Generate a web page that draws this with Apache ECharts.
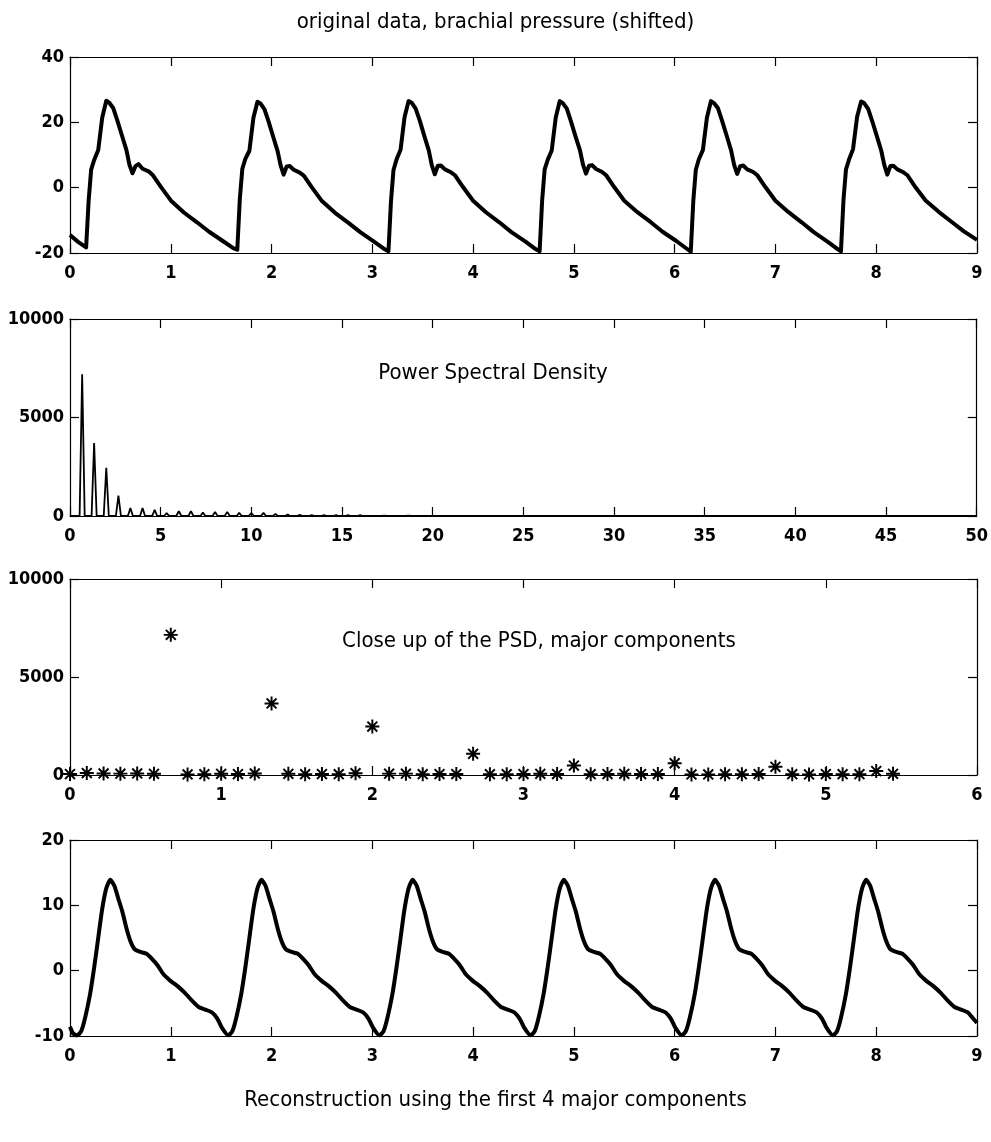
<!DOCTYPE html>
<html>
<head>
<meta charset="utf-8">
<script src="https://cdn.jsdelivr.net/npm/echarts@6/dist/echarts.min.js"></script>
<style>
  html, body { margin: 0; padding: 0; background: #fff; }
  #main { width: 991px; height: 1142px; }
</style>
</head>
<body>
<div id="main"></div>
<script>
// brachial pressure [time s, mmHg shifted]
var pressure = [
  [0, -14.5], [0.08, -16.6],
  [0.16,-18.3],[0.185,-4],[0.21,5.5],[0.24,8.5],[0.28,11.5],[0.32,21.5],[0.36,26.6],[0.39,26.0],[0.43,24.3],[0.47,20.5],[0.52,15.5],[0.56,11.5],[0.59,7],[0.62,4.4],[0.65,6.6],[0.68,7.2],[0.72,5.8],[0.78,5],[0.82,3.9],[0.90,0.3],[1.00,-3.9],[1.13,-7.6],[1.26,-10.6],[1.38,-13.5],[1.52,-16.4],[1.62,-18.5],
  [1.66,-19.0],[1.685,-3.5],[1.71,5.8],[1.74,8.8],[1.78,11.3],[1.82,21.4],[1.86,26.3],[1.89,25.8],[1.93,24.0],[1.97,20.3],[2.02,15.2],[2.06,11.2],[2.09,6.8],[2.12,4.0],[2.15,6.5],[2.18,6.6],[2.22,5.5],[2.28,4.6],[2.32,3.7],[2.40,0.1],[2.50,-4.1],[2.63,-7.7],[2.76,-10.7],[2.88,-13.6],[3.02,-16.6],[3.12,-18.8],
  [3.16,-19.5],[3.185,-4.2],[3.21,5.4],[3.24,8.6],[3.28,11.6],[3.32,21.6],[3.36,26.5],[3.39,26.0],[3.43,24.2],[3.47,20.6],[3.52,15.4],[3.56,11.4],[3.59,6.9],[3.62,4.1],[3.65,6.7],[3.68,6.8],[3.72,5.6],[3.78,4.7],[3.82,3.8],[3.90,0.2],[4.00,-4.0],[4.13,-7.6],[4.26,-10.6],[4.38,-13.6],[4.52,-16.5],[4.62,-18.8],
  [4.66,-19.5],[4.685,-3.9],[4.71,5.6],[4.74,8.5],[4.78,11.4],[4.82,21.5],[4.86,26.5],[4.89,25.9],[4.93,24.2],[4.97,20.4],[5.02,15.3],[5.06,11.5],[5.09,7.1],[5.12,4.3],[5.15,6.7],[5.18,6.9],[5.22,5.7],[5.28,4.8],[5.32,3.8],[5.40,0.2],[5.50,-4.0],[5.63,-7.5],[5.76,-10.5],[5.88,-13.5],[6.02,-16.4],[6.12,-18.7],
  [6.16,-19.6],[6.185,-4.0],[6.21,5.5],[6.24,8.7],[6.28,11.5],[6.32,21.4],[6.36,26.5],[6.39,25.9],[6.43,24.3],[6.47,20.5],[6.52,15.5],[6.56,11.4],[6.59,7.0],[6.62,4.2],[6.65,6.6],[6.68,6.8],[6.72,5.6],[6.78,4.8],[6.82,3.8],[6.90,0.2],[7.00,-4.0],[7.13,-7.5],[7.26,-10.6],[7.38,-13.6],[7.52,-16.6],[7.62,-18.9],
  [7.65,-19.5],[7.675,-3.8],[7.70,5.6],[7.73,8.6],[7.77,11.8],[7.81,21.6],[7.85,26.4],[7.88,25.9],[7.92,24.1],[7.96,20.4],[8.01,15.4],[8.05,11.3],[8.08,7.0],[8.11,4.0],[8.14,6.6],[8.17,6.7],[8.21,5.6],[8.27,4.7],[8.31,3.8],[8.39,0.1],[8.49,-3.9],[8.62,-7.4],[8.75,-10.5],[8.87,-13.4],[9.00,-16.0]
];

// PSD peaks (harmonics of ~0.67 Hz)
var psdFreq  = [0.67, 1.33, 2.0, 2.67, 3.33, 4.0, 4.67, 5.33, 6.0, 6.67, 7.33, 8.0, 8.67, 9.33, 10.0, 10.67, 11.33, 12.0, 12.67, 13.33, 14.0, 14.67, 15.33, 16.0, 17.33, 18.67];
var psdPower = [7200, 3700, 2450, 1030, 400, 400, 310, 150, 250, 250, 170, 210, 210, 160, 150, 160, 100, 70, 60, 50, 50, 50, 40, 40, 20, 20];

// close up, one point every 1/9 Hz (k = 0..49)
var closeUpPower = [
  50, 100, 80, 70, 80, 60, 7150, 30, 40, 60,
  50, 80, 3650, 60, 40, 50, 40, 90, 2470, 70,
  70, 40, 50, 50, 1080, 40, 40, 50, 60, 50,
  480, 40, 50, 60, 50, 50, 600, 30, 30, 40,
  40, 50, 420, 40, 30, 50, 40, 40, 200, 60
];

// reconstruction from the first 4 major components
var reconstruction = [
  [0,-8.6],[0.03,-9.6],
  [0.07,-9.9],[0.11,-9.3],[0.15,-7.2],[0.20,-3.5],[0.24,0.5],[0.28,5.0],[0.32,9.5],[0.36,12.6],[0.40,13.9],[0.44,13.0],[0.48,11.0],[0.52,9.0],[0.56,6.5],[0.60,4.5],[0.64,3.3],[0.69,2.9],[0.76,2.6],[0.82,1.7],[0.87,0.8],[0.93,-0.6],[1.00,-1.6],[1.07,-2.4],[1.14,-3.4],[1.21,-4.6],[1.28,-5.6],[1.35,-6.0],[1.41,-6.4],[1.46,-7.3],[1.51,-8.8],
  [1.57,-9.9],[1.61,-9.3],[1.65,-7.2],[1.70,-3.5],[1.74,0.5],[1.78,5.0],[1.82,9.5],[1.86,12.6],[1.90,13.9],[1.94,13.0],[1.98,11.0],[2.02,9.0],[2.06,6.5],[2.10,4.5],[2.14,3.3],[2.19,2.9],[2.26,2.6],[2.32,1.7],[2.37,0.8],[2.43,-0.6],[2.50,-1.6],[2.57,-2.4],[2.64,-3.4],[2.71,-4.6],[2.78,-5.6],[2.85,-6.0],[2.91,-6.4],[2.96,-7.3],[3.01,-8.8],
  [3.07,-9.9],[3.11,-9.3],[3.15,-7.2],[3.20,-3.5],[3.24,0.5],[3.28,5.0],[3.32,9.5],[3.36,12.6],[3.40,13.9],[3.44,13.0],[3.48,11.0],[3.52,9.0],[3.56,6.5],[3.60,4.5],[3.64,3.3],[3.69,2.9],[3.76,2.6],[3.82,1.7],[3.87,0.8],[3.93,-0.6],[4.00,-1.6],[4.07,-2.4],[4.14,-3.4],[4.21,-4.6],[4.28,-5.6],[4.35,-6.0],[4.41,-6.4],[4.46,-7.3],[4.51,-8.8],
  [4.57,-9.9],[4.61,-9.3],[4.65,-7.2],[4.70,-3.5],[4.74,0.5],[4.78,5.0],[4.82,9.5],[4.86,12.6],[4.90,13.9],[4.94,13.0],[4.98,11.0],[5.02,9.0],[5.06,6.5],[5.10,4.5],[5.14,3.3],[5.19,2.9],[5.26,2.6],[5.32,1.7],[5.37,0.8],[5.43,-0.6],[5.50,-1.6],[5.57,-2.4],[5.64,-3.4],[5.71,-4.6],[5.78,-5.6],[5.85,-6.0],[5.91,-6.4],[5.96,-7.3],[6.01,-8.8],
  [6.07,-9.9],[6.11,-9.3],[6.15,-7.2],[6.20,-3.5],[6.24,0.5],[6.28,5.0],[6.32,9.5],[6.36,12.6],[6.40,13.9],[6.44,13.0],[6.48,11.0],[6.52,9.0],[6.56,6.5],[6.60,4.5],[6.64,3.3],[6.69,2.9],[6.76,2.6],[6.82,1.7],[6.87,0.8],[6.93,-0.6],[7.00,-1.6],[7.07,-2.4],[7.14,-3.4],[7.21,-4.6],[7.28,-5.6],[7.35,-6.0],[7.41,-6.4],[7.46,-7.3],[7.51,-8.8],
  [7.57,-9.9],[7.61,-9.3],[7.65,-7.2],[7.70,-3.5],[7.74,0.5],[7.78,5.0],[7.82,9.5],[7.86,12.6],[7.90,13.9],[7.94,13.0],[7.98,11.0],[8.02,9.0],[8.06,6.5],[8.10,4.5],[8.14,3.3],[8.19,2.9],[8.26,2.6],[8.32,1.7],[8.37,0.8],[8.43,-0.6],[8.50,-1.6],[8.57,-2.4],[8.64,-3.4],[8.71,-4.6],[8.78,-5.6],[8.85,-6.0],[8.91,-6.4],[8.96,-7.3],[9.00,-8.0]
];

var FONT = "'Liberation Sans Narrow', 'DejaVu Sans Condensed', 'Arial Narrow', sans-serif";

// psd drawn as a line that sits on zero between the harmonic peaks
var psdLine = [[0, 0]];
psdFreq.forEach(function (f, i) {
  psdLine.push([f - 0.14, 0], [f, psdPower[i]], [f + 0.14, 0]);
});
psdLine.push([50, 0]);

var closeUp = closeUpPower.map(function (v, k) { return [k / 9, v]; });

// 8-arm asterisk marker like matlab '*'
var STAR = 'path://M8.6 0L11.4 0L11.4 20L8.6 20Z M0 8.6L20 8.6L20 11.4L0 11.4Z ' +
  'M3.93 1.95L18.05 16.07L16.07 18.05L1.95 3.93Z M16.07 1.95L18.05 3.93L3.93 18.05L1.95 16.07Z';

var grids = [
  { left: 70, right: 14, top: 57, height: 196 },
  { left: 70, right: 14, top: 319, height: 197 },
  { left: 70, right: 14, top: 579, height: 196 },
  { left: 70, right: 14, top: 840, height: 196 }
];

function axisPair(dir, gi, min, max, interval) {
  var main = {
    gridIndex: gi, type: 'value', min: min, max: max, interval: interval,
    position: dir === 'x' ? 'bottom' : 'left',
    splitLine: { show: false },
    axisLine: { show: true, onZero: false, lineStyle: { color: '#000', width: 1.2 } },
    axisTick: { show: true, inside: true, length: 9, lineStyle: { color: '#000', width: 1.2 } },
    axisLabel: {
      show: true, color: '#000', fontFamily: FONT, fontWeight: 'bold', fontSize: 18,
      margin: dir === 'x' ? 11 : 6,
      formatter: function (v) { return String(v); }
    }
  };
  var other = echarts.util.clone(main);
  other.position = dir === 'x' ? 'top' : 'right';
  other.axisLabel = { show: false };
  return [main, other];
}

var xAxis = [].concat(
  axisPair('x', 0, 0, 9, 1),
  axisPair('x', 1, 0, 50, 5),
  axisPair('x', 2, 0, 6, 1),
  axisPair('x', 3, 0, 9, 1)
);
var yAxis = [].concat(
  axisPair('y', 0, -20, 40, 20),
  axisPair('y', 1, 0, 10000, 5000),
  axisPair('y', 2, 0, 10000, 5000),
  axisPair('y', 3, -10, 20, 10)
);

var chart = echarts.init(document.getElementById('main'));
var option = {
  backgroundColor: '#fff',
  animation: false,
  grid: grids,
  xAxis: xAxis,
  yAxis: yAxis,
  graphic: [
    { type: 'text', left: 'center', top: 11,
      style: { text: 'original data, brachial pressure (shifted)', font: '22px ' + FONT, fill: '#000' } },
    { type: 'text', x: 493, y: 373,
      style: { text: 'Power Spectral Density', font: '22px ' + FONT, fill: '#000', textAlign: 'center', textVerticalAlign: 'middle' } },
    { type: 'text', x: 539, y: 641,
      style: { text: 'Close up of the PSD, major components', font: '22px ' + FONT, fill: '#000', textAlign: 'center', textVerticalAlign: 'middle' } },
    { type: 'text', left: 'center', top: 1089,
      style: { text: 'Reconstruction using the first 4 major components', font: '22px ' + FONT, fill: '#000' } }
  ],
  series: [
    {
      type: 'line', xAxisIndex: 0, yAxisIndex: 0,
      data: pressure, showSymbol: false, symbol: 'none',
      lineStyle: { color: '#000', width: 4, join: 'round' }
    },
    {
      type: 'line', xAxisIndex: 2, yAxisIndex: 2,
      data: psdLine, showSymbol: false, symbol: 'none',
      lineStyle: { color: '#000', width: 1.8 }
    },
    {
      type: 'scatter', xAxisIndex: 4, yAxisIndex: 4,
      data: closeUp, symbol: STAR, symbolSize: 14,
      itemStyle: { color: '#000', opacity: 1 }
    },
    {
      type: 'line', xAxisIndex: 6, yAxisIndex: 6,
      data: reconstruction, showSymbol: false, symbol: 'none', smooth: 0.2,
      lineStyle: { color: '#000', width: 4, join: 'round' }
    }
  ]
};
chart.setOption(option);
</script>
</body>
</html>
